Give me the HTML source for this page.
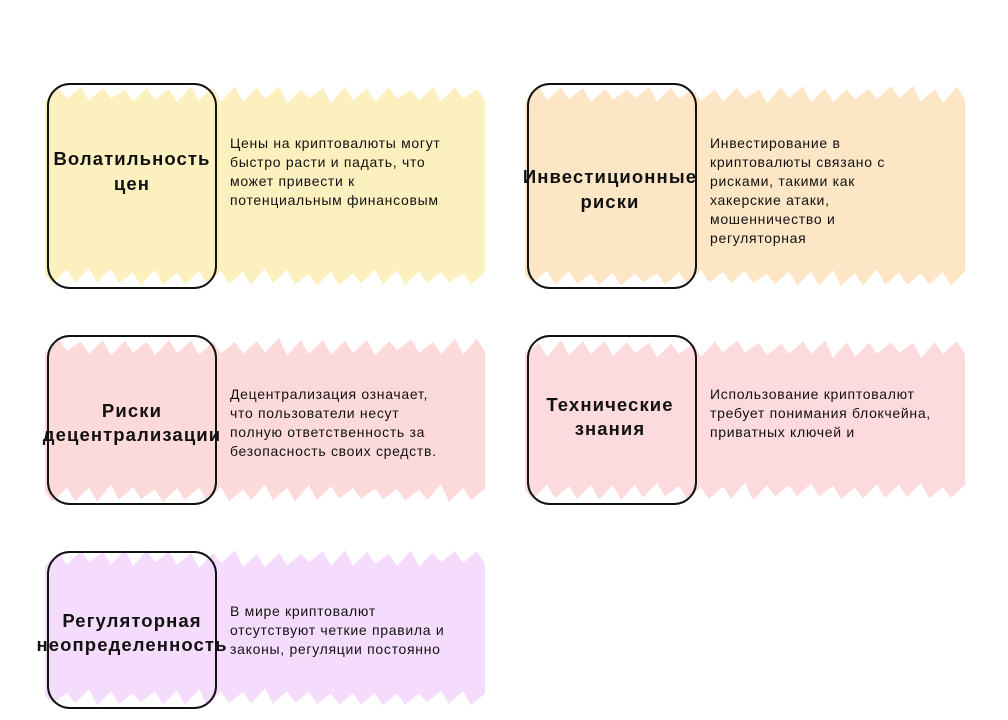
<!DOCTYPE html>
<html><head><meta charset="utf-8"><style>
html,body{margin:0;padding:0;background:#fff;}
svg{display:block}
.t{font-family:"Liberation Sans","DejaVu Sans",sans-serif;font-weight:bold;font-size:18.5px;letter-spacing:1.1px;fill:#111;text-anchor:middle}
.b{font-family:"Liberation Sans","DejaVu Sans",sans-serif;font-size:14px;letter-spacing:0.7px;fill:#111}
</style></head><body>
<svg id="s" width="1008" height="720" viewBox="0 0 1008 720" xmlns="http://www.w3.org/2000/svg">
<g id="fills"></g>
<g fill="none" stroke="#111" stroke-width="2">
<rect x="48" y="84" width="168" height="204" rx="22"/>
<rect x="528" y="84" width="168" height="204" rx="22"/>
<rect x="48" y="336" width="168" height="168" rx="22"/>
<rect x="528" y="336" width="168" height="168" rx="22"/>
<rect x="48" y="552" width="168" height="156" rx="22"/>
</g>
<text class="t" x="132" y="165">Волатильность</text>
<text class="t" x="132" y="190">цен</text>
<text class="b" x="230" y="148">Цены на криптовалюты могут</text>
<text class="b" x="230" y="167">быстро расти и падать, что</text>
<text class="b" x="230" y="186">может привести к</text>
<text class="b" x="230" y="205">потенциальным финансовым</text>

<text class="t" x="610" y="183">Инвестиционные</text>
<text class="t" x="610" y="208">риски</text>
<text class="b" x="710" y="148">Инвестирование в</text>
<text class="b" x="710" y="167">криптовалюты связано с</text>
<text class="b" x="710" y="186">рисками, такими как</text>
<text class="b" x="710" y="205">хакерские атаки,</text>
<text class="b" x="710" y="224">мошенничество и</text>
<text class="b" x="710" y="243">регуляторная</text>

<text class="t" x="132" y="417">Риски</text>
<text class="t" x="132" y="441">децентрализации</text>
<text class="b" x="230" y="399">Децентрализация означает,</text>
<text class="b" x="230" y="418">что пользователи несут</text>
<text class="b" x="230" y="437">полную ответственность за</text>
<text class="b" x="230" y="456">безопасность своих средств.</text>

<text class="t" x="610" y="411">Технические</text>
<text class="t" x="610" y="435">знания</text>
<text class="b" x="710" y="399">Использование криптовалют</text>
<text class="b" x="710" y="418">требует понимания блокчейна,</text>
<text class="b" x="710" y="437">приватных ключей и</text>

<text class="t" x="132" y="627">Регуляторная</text>
<text class="t" x="132" y="651">неопределенность</text>
<text class="b" x="230" y="616">В мире криптовалют</text>
<text class="b" x="230" y="635">отсутствуют четкие правила и</text>
<text class="b" x="230" y="654">законы, регуляции постоянно</text>
</svg>
<script>
(function(){
var g=document.getElementById('fills');
var seed=7;function r(){seed=(seed*9301+49297)%233280;return seed/233280;}
function fill(x0,y0,x1,y1,c){
 var pts=[],x;
 for(x=x0;x<x1;x+=22){pts.push([x,y0+12+r()*6]);pts.push([x+14,y0+r()*4]);}
 pts.push([x1,y0+14]);pts.push([x1,y1-10]);
 for(x=x1;x>x0;x-=22){pts.push([x,y1-12-r()*6]);pts.push([x-14,y1-r()*4]);}
 pts.push([x0,y1-10]);
 var p=document.createElementNS('http://www.w3.org/2000/svg','polygon');
 p.setAttribute('points',pts.map(function(a){return a[0].toFixed(1)+','+a[1].toFixed(1)}).join(' '));
 p.setAttribute('fill',c);g.appendChild(p);
}
fill(45,86,485,286,'#fdf0bf');
fill(525,86,965,286,'#fde6c6');
fill(45,338,485,502,'#fddada');
fill(525,340,965,500,'#fddade');
fill(45,550,485,706,'#f5dcfc');
})();
</script>
</body></html>
